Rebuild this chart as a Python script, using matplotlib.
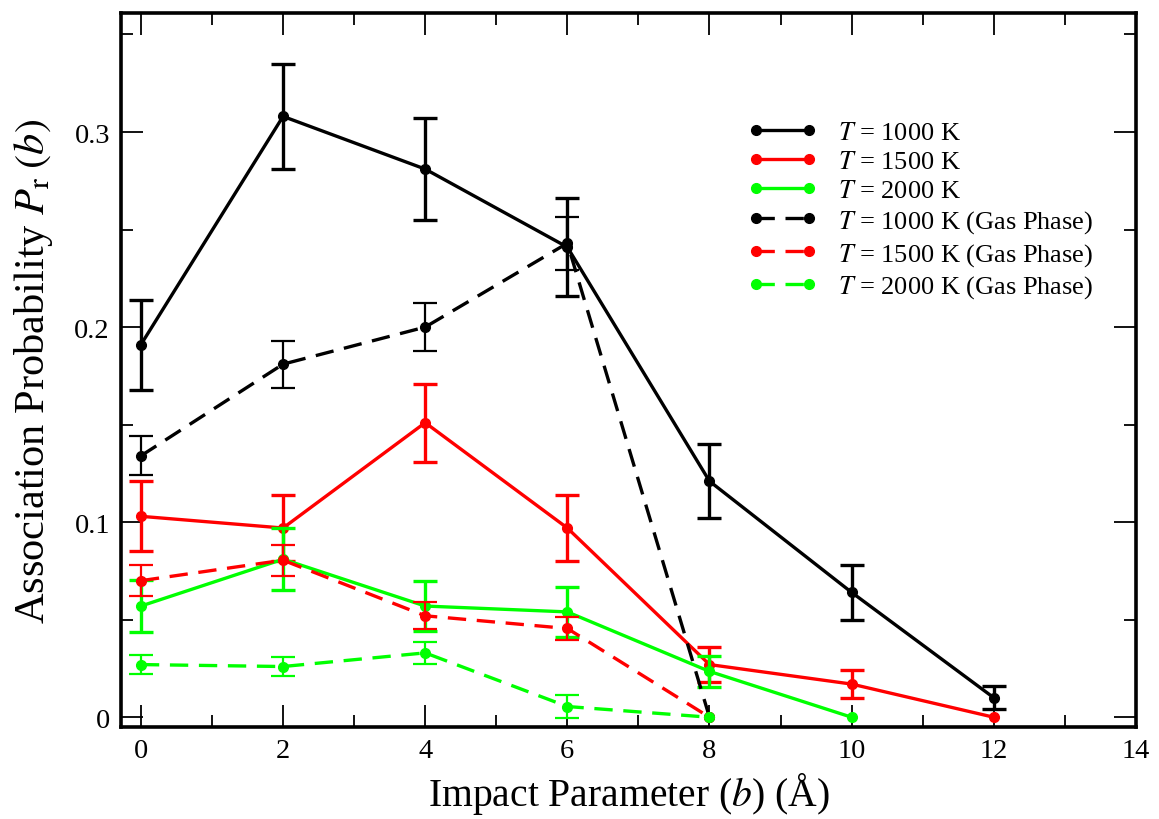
import numpy as np
import matplotlib
matplotlib.use("Agg")
import matplotlib.pyplot as plt
from matplotlib.ticker import MultipleLocator

plt.rcParams['font.family'] = ['Liberation Serif', 'DejaVu Serif']
plt.rcParams['mathtext.fontset'] = 'stix'

# impact parameter (Angstrom)
b_vals = [0, 2, 4, 6, 8, 10, 12]
b_gas = [0, 2, 4, 6, 8]

# surface runs
p_1000 = [0.191, 0.308, 0.281, 0.241, 0.121, 0.064, 0.010]
e_1000 = [0.023, 0.027, 0.026, 0.025, 0.019, 0.014, 0.006]
p_1500 = [0.103, 0.097, 0.151, 0.097, 0.027, 0.017, 0.0]
e_1500 = [0.018, 0.017, 0.020, 0.017, 0.009, 0.007, 0.0]
p_2000 = [0.057, 0.081, 0.057, 0.054, 0.0235, 0.0]
e_2000 = [0.0135, 0.016, 0.013, 0.013, 0.008, 0.0]

# gas phase runs
g_1000 = [0.134, 0.181, 0.200, 0.243, 0.0]
ge_1000 = [0.010, 0.012, 0.0125, 0.0135, 0.0]
g_1500 = [0.070, 0.0805, 0.052, 0.0455, 0.0]
ge_1500 = [0.008, 0.008, 0.007, 0.006, 0.0]
g_2000 = [0.027, 0.026, 0.033, 0.0055, 0.0]
ge_2000 = [0.005, 0.005, 0.0055, 0.006, 0.0]

series = [
    (b_vals, p_1000, e_1000, 'black', '-', 2.4, r'$T$ = 1000 K'),
    (b_vals, p_1500, e_1500, 'red', '-', 2.4, r'$T$ = 1500 K'),
    (b_vals[:6], p_2000, e_2000, 'lime', '-', 2.4, r'$T$ = 2000 K'),
    (b_gas, g_1000, ge_1000, 'black', '--', 1.6, r'$T$ = 1000 K (Gas Phase)'),
    (b_gas, g_1500, ge_1500, 'red', '--', 1.6, r'$T$ = 1500 K (Gas Phase)'),
    (b_gas, g_2000, ge_2000, 'lime', '--', 1.6, r'$T$ = 2000 K (Gas Phase)'),
]

fig = plt.figure(figsize=(11.59, 8.2), dpi=100)
ax = fig.add_axes([0.1044, 0.1122, 0.8757, 0.8707])

for x, y, e, c, ls, ew, lab in series:
    x = np.asarray(x, float)
    y = np.asarray(y, float)
    e = np.asarray(e, float)
    line, = ax.plot(x, y, color=c, ls=ls, lw=2.4, marker='o', ms=7, label=lab)
    if ls == '--':
        line.set_dashes((5.5, 3.2))
    m = e > 0
    ax.errorbar(x[m], y[m], yerr=e[m], fmt='none', ecolor=c, elinewidth=ew,
                capsize=8.3, capthick=ew)

ax.set_xlim(-0.28, 14)
ax.set_ylim(-0.005, 0.361)
ax.xaxis.set_major_locator(MultipleLocator(2))
ax.xaxis.set_minor_locator(MultipleLocator(1))
ax.yaxis.set_minor_locator(MultipleLocator(0.05))
ax.set_yticks([0, 0.1, 0.2, 0.3])
ax.set_yticklabels(['0', '0.1', '0.2', '0.3'])
ax.tick_params(which='both', direction='in', top=True, right=True, width=1.3,
               labelsize=20.5)
ax.tick_params(which='major', length=16, pad=8)
ax.tick_params(which='minor', length=8.5)
for s in ax.spines.values():
    s.set_linewidth(2.6)

ax.set_xlabel(r'Impact Parameter ($b$) (Å)', fontsize=28.5, labelpad=5)
ax.set_ylabel(r'Association Probability $P_{\rm r}\;(b)$', fontsize=30.5, labelpad=14)

ax.legend(loc='upper left', bbox_to_anchor=(0.605, 0.868), frameon=False,
          fontsize=19, handlelength=2.6, numpoints=2, labelspacing=0.22,
          handletextpad=0.8, borderpad=0)

fig.savefig('out.png', dpi=100)
